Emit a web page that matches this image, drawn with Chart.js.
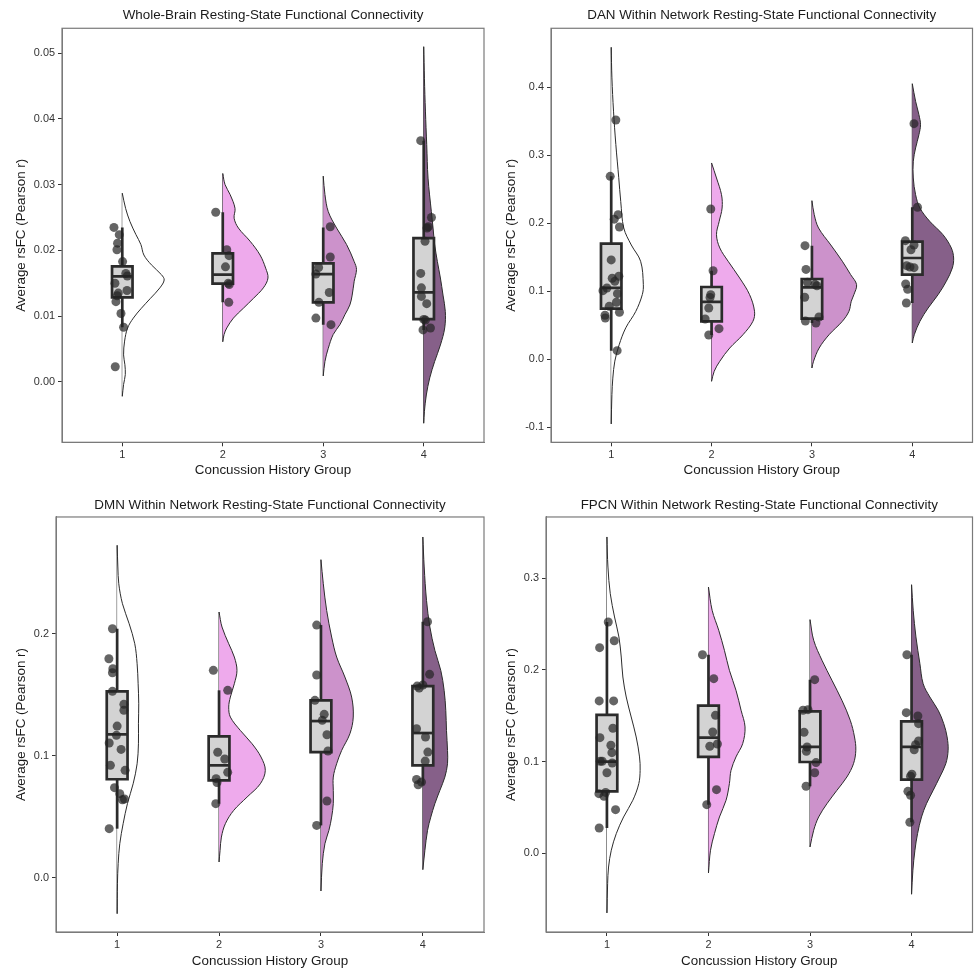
<!DOCTYPE html>
<html>
<head>
<meta charset="utf-8">
<script src="https://cdn.jsdelivr.net/npm/chart.js@4.4.1/dist/chart.umd.min.js"></script>
<style>
  body { margin: 0; background: #fff; }
  #wrap { position: relative; width: 977px; height: 970px; }
  canvas { position: absolute; }
</style>
</head>
<body>
<div id="wrap">
  <canvas id="whole" width="490" height="485" style="left:0;top:0"></canvas>
  <canvas id="dan" width="487" height="485" style="left:490px;top:0"></canvas>
  <canvas id="dmn" width="490" height="485" style="left:0;top:485px"></canvas>
  <canvas id="fpcn" width="487" height="485" style="left:490px;top:485px"></canvas>
</div>
<script>
var groups = ['1', '2', '3', '4'];
var groupFills = ['#FFFFFF', '#EEAAEC', '#CC92CB', '#866089'];

// ---- Whole-brain ----
var wholeTicks = [0, 0.01, 0.02, 0.03, 0.04, 0.05];
var wholeValues = [
  [0.0235, 0.0224, 0.0211, 0.0201, 0.0183, 0.0165, 0.0161, 0.0150, 0.0139, 0.0135, 0.0131, 0.0122, 0.0104, 0.0083, 0.0023],
  [0.0258, 0.0201, 0.0192, 0.0175, 0.0150, 0.0148, 0.0121],
  [0.0236, 0.0190, 0.0174, 0.0164, 0.0136, 0.0121, 0.0097, 0.0087],
  [0.0367, 0.0250, 0.0236, 0.0234, 0.0214, 0.0165, 0.0143, 0.0130, 0.0119, 0.0095, 0.0094, 0.0082, 0.0079]
];
var wholeJitter = [
  [-0.083, -0.03, -0.047, -0.053, 0.003, 0.035, 0.05, -0.073, 0.047, -0.04, -0.05, -0.063, -0.013, 0.013, -0.07],
  [-0.07, 0.04, 0.063, 0.027, 0.055, 0.065, 0.06],
  [0.07, 0.07, -0.046, -0.073, 0.06, -0.043, -0.073, 0.077],
  [-0.03, 0.077, 0.046, 0.033, 0.013, -0.03, -0.023, -0.023, 0.03, 0.0, 0.017, 0.067, -0.007]
];
// [lower whisker, q1, median, q3, upper whisker]
var wholeBox = [
  [0.0083, 0.01285, 0.01605, 0.01757, 0.0235],
  [0.0121, 0.01493, 0.0163, 0.01955, 0.0258],
  [0.0087, 0.01209, 0.0164, 0.01802, 0.0235],
  [0.0079, 0.00955, 0.0136, 0.02188, 0.0367]
];
// [value, half-violin width]
var wholeViolin = [
  [[-0.0022,0],[-0.0004,0.013],[0.0011,0.03],[0.0026,0.026],[0.0041,0.013],[0.0062,0.023],[0.0082,0.053],[0.0097,0.11],[0.0112,0.19],[0.0127,0.28],[0.0143,0.374],[0.0155,0.417],[0.0163,0.39],[0.0178,0.29],[0.0193,0.215],[0.0209,0.185],[0.0224,0.136],[0.0244,0.076],[0.0264,0.033],[0.0287,0]],
  [[0.0061,0],[0.0072,0.013],[0.0082,0.04],[0.0097,0.106],[0.0112,0.205],[0.0127,0.305],[0.0143,0.404],[0.0158,0.45],[0.0173,0.427],[0.0193,0.371],[0.0214,0.272],[0.0234,0.156],[0.0249,0.113],[0.0264,0.122],[0.0285,0.073],[0.0300,0.023],[0.0317,0]],
  [[0.0009,0],[0.0031,0.017],[0.0051,0.05],[0.0072,0.099],[0.0087,0.166],[0.0102,0.215],[0.0117,0.265],[0.0132,0.288],[0.0153,0.308],[0.0171,0.331],[0.0183,0.308],[0.0209,0.232],[0.0234,0.133],[0.0259,0.05],[0.0285,0.017],[0.0313,0]],
  [[-0.0063,0],[-0.0045,0.007],[-0.002,0.026],[0.0006,0.06],[0.0031,0.109],[0.0056,0.166],[0.0082,0.209],[0.0107,0.215],[0.0132,0.192],[0.0158,0.166],[0.0183,0.136],[0.0209,0.109],[0.0234,0.093],[0.0259,0.076],[0.031,0.043],[0.0361,0.03],[0.0412,0.017],[0.0462,0.007],[0.051,0]]
];

// ---- DAN ----
var danTicks = [-0.1, 0, 0.1, 0.2, 0.3, 0.4];
var danValues = [
  [0.352, 0.269, 0.2126, 0.206, 0.1945, 0.146, 0.122, 0.119, 0.1145, 0.1047, 0.1007, 0.0963, 0.0836, 0.0777, 0.0689, 0.0645, 0.0605, 0.0124],
  [0.221, 0.130, 0.0948, 0.0907, 0.0752, 0.059, 0.0448, 0.0355],
  [0.167, 0.132, 0.113, 0.110, 0.108, 0.091, 0.062, 0.056, 0.053],
  [0.3466, 0.2235, 0.1743, 0.168, 0.161, 0.1375, 0.1356, 0.1346, 0.1105, 0.1027, 0.0826]
];
var danJitter = [
  [0.046, -0.01, 0.069, 0.03, 0.082, 0.0, 0.076, 0.01, 0.036, -0.043, -0.082, 0.062, 0.052, -0.02, 0.082, -0.062, -0.059, 0.059],
  [-0.008, 0.015, -0.008, -0.015, -0.028, -0.064, 0.074, -0.028],
  [-0.069, -0.059, -0.045, 0.03, 0.05, -0.072, 0.07, -0.065, 0.04],
  [0.017, 0.052, -0.069, 0.017, -0.013, -0.056, -0.023, 0.017, -0.066, -0.046, -0.059]
];
var danBox = [
  [0.0124, 0.0742, 0.1047, 0.170, 0.269],
  [0.0355, 0.0556, 0.0841, 0.1061, 0.130],
  [0.053, 0.0595, 0.1057, 0.1179, 0.167],
  [0.0826, 0.1243, 0.1488, 0.1728, 0.2235]
];
var danViolin = [
  [[-0.0955,0],[-0.052,0.007],[-0.028,0.016],[-0.003,0.036],[0.021,0.079],[0.046,0.145],[0.07,0.244],[0.095,0.31],[0.11,0.32],[0.144,0.293],[0.168,0.2],[0.193,0.125],[0.232,0.095],[0.267,0.075],[0.316,0.046],[0.365,0.023],[0.414,0.007],[0.459,0]],
  [[-0.0327,0],[-0.018,0.026],[-0.0032,0.082],[0.0163,0.181],[0.0359,0.313],[0.0556,0.412],[0.0704,0.428],[0.0948,0.379],[0.1194,0.28],[0.144,0.165],[0.1636,0.082],[0.1831,0.049],[0.2028,0.076],[0.2224,0.105],[0.242,0.099],[0.2666,0.049],[0.2887,0]],
  [[-0.0131,0],[-0.0032,0.016],[0.0163,0.072],[0.0359,0.171],[0.0556,0.303],[0.0704,0.369],[0.0851,0.392],[0.0948,0.418],[0.1096,0.445],[0.1243,0.386],[0.144,0.303],[0.168,0.188],[0.193,0.066],[0.2126,0.023],[0.2332,0]],
  [[0.0237,0],[0.0359,0.02],[0.0556,0.076],[0.0752,0.158],[0.0948,0.257],[0.1145,0.339],[0.1341,0.399],[0.1488,0.412],[0.1636,0.389],[0.1831,0.306],[0.2028,0.174],[0.2224,0.076],[0.242,0.033],[0.2666,0.01],[0.2912,0.01],[0.3108,0.033],[0.3303,0.066],[0.345,0.082],[0.3598,0.066],[0.3795,0.033],[0.4054,0]]
];

// ---- DMN ----
var dmnTicks = [0, 0.1, 0.2];
var dmnValues = [
  [0.2041, 0.1795, 0.1713, 0.168, 0.1528, 0.1421, 0.1372, 0.1243, 0.1167, 0.1104, 0.1052, 0.0921, 0.088, 0.0738, 0.0689, 0.0639, 0.0645, 0.0402],
  [0.170, 0.1536, 0.1028, 0.0973, 0.0864, 0.0812, 0.078, 0.0607],
  [0.2071, 0.1662, 0.1454, 0.1339, 0.129, 0.1172, 0.1039, 0.0629, 0.0429],
  [0.2098, 0.1667, 0.1571, 0.1555, 0.158, 0.1221, 0.1153, 0.103, 0.0956, 0.0806, 0.0762, 0.0784]
];
var dmnJitter = [
  [-0.046, -0.081, -0.042, -0.046, -0.046, 0.066, 0.066, 0.0, -0.007, -0.078, 0.039, -0.066, 0.078, -0.026, 0.026, 0.052, 0.072, -0.078],
  [-0.056, 0.085, -0.013, 0.056, 0.085, -0.029, -0.02, -0.032],
  [-0.042, -0.042, -0.059, 0.032, 0.013, 0.059, 0.069, 0.059, -0.042],
  [0.046, 0.066, -0.056, -0.036, 0.0, -0.062, 0.026, 0.049, 0.023, -0.062, -0.046, -0.013]
];
var dmnBox = [
  [0.0402, 0.0807, 0.1175, 0.1528, 0.2041],
  [0.0607, 0.0798, 0.0921, 0.1159, 0.1536],
  [0.0429, 0.1030, 0.1284, 0.1454, 0.2071],
  [0.0762, 0.0921, 0.1186, 0.1571, 0.2098]
];
var dmnViolin = [
  [[-0.0295,0],[-0.0049,0.003],[0.0115,0.01],[0.0279,0.026],[0.0443,0.059],[0.0607,0.101],[0.077,0.157],[0.0934,0.196],[0.1098,0.209],[0.1262,0.209],[0.1426,0.212],[0.159,0.206],[0.1754,0.196],[0.1918,0.173],[0.2082,0.118],[0.2246,0.052],[0.241,0.016],[0.2547,0.007],[0.2725,0]],
  [[0.0129,0],[0.0224,0.01],[0.0333,0.023],[0.0443,0.062],[0.0552,0.144],[0.0661,0.275],[0.077,0.405],[0.088,0.454],[0.0989,0.412],[0.1098,0.324],[0.1207,0.209],[0.1317,0.111],[0.1399,0.095],[0.1481,0.111],[0.159,0.15],[0.1699,0.176],[0.1809,0.15],[0.1918,0.095],[0.2055,0.029],[0.2178,0]],
  [[-0.0109,0],[0.0115,0.013],[0.0279,0.039],[0.0388,0.078],[0.0497,0.105],[0.0607,0.121],[0.0716,0.121],[0.0825,0.121],[0.0934,0.154],[0.1043,0.203],[0.118,0.284],[0.1317,0.317],[0.1481,0.301],[0.1645,0.235],[0.1809,0.154],[0.1973,0.105],[0.2191,0.056],[0.241,0.023],[0.2607,0]],
  [[0.0066,0],[0.0224,0.02],[0.0388,0.046],[0.0497,0.078],[0.0607,0.118],[0.0716,0.167],[0.0825,0.216],[0.0934,0.242],[0.1043,0.242],[0.1207,0.232],[0.1371,0.225],[0.1535,0.209],[0.1699,0.176],[0.1863,0.118],[0.2055,0.069],[0.2273,0.036],[0.2547,0.013],[0.2793,0]]
];

// ---- FPCN ----
var fpcnTicks = [0, 0.1, 0.2, 0.3];
var fpcnValues = [
  [0.2523, 0.2319, 0.2243, 0.1662, 0.1662, 0.1364, 0.1261, 0.1178, 0.1098, 0.1004, 0.1004, 0.0985, 0.0879, 0.0664, 0.065, 0.0622, 0.0476, 0.0276],
  [0.2166, 0.1905, 0.1505, 0.1323, 0.1192, 0.1167, 0.0694, 0.053],
  [0.1894, 0.1567, 0.156, 0.132, 0.116, 0.1113, 0.0989, 0.0879, 0.0731],
  [0.2166, 0.1534, 0.1498, 0.1414, 0.1225, 0.1185, 0.113, 0.0862, 0.084, 0.0676, 0.0633, 0.0338]
];
var fpcnJitter = [
  [0.013, 0.072, -0.072, -0.076, 0.066, 0.059, -0.069, 0.039, 0.049, -0.066, -0.046, 0.052, 0.0, -0.013, -0.079, -0.029, 0.085, -0.076],
  [-0.059, 0.052, 0.069, 0.042, 0.088, 0.013, 0.079, -0.017],
  [0.046, -0.02, -0.069, -0.059, -0.029, -0.036, 0.059, 0.046, -0.039],
  [-0.046, -0.052, 0.062, 0.069, 0.069, 0.039, 0.026, 0.003, -0.01, -0.036, -0.01, -0.017]
];
var fpcnBox = [
  [0.0276, 0.0676, 0.0999, 0.1509, 0.2523],
  [0.053, 0.1051, 0.1261, 0.1610, 0.2166],
  [0.0731, 0.0996, 0.116, 0.1549, 0.1894],
  [0.0338, 0.0803, 0.116, 0.144, 0.2166]
];
var fpcnViolin = [
  [[-0.0651,0],[-0.0332,0.007],[-0.015,0.016],[0.0033,0.043],[0.0214,0.092],[0.0396,0.164],[0.0578,0.255],[0.076,0.314],[0.0905,0.327],[0.1051,0.321],[0.1269,0.288],[0.1487,0.239],[0.1705,0.19],[0.1923,0.157],[0.2141,0.141],[0.236,0.118],[0.2578,0.075],[0.2832,0.033],[0.3123,0.01],[0.3451,0]],
  [[-0.0215,0],[0.0033,0.02],[0.0214,0.059],[0.0396,0.108],[0.0578,0.173],[0.076,0.206],[0.0905,0.222],[0.1051,0.271],[0.1196,0.337],[0.1378,0.36],[0.156,0.321],[0.1778,0.271],[0.1996,0.206],[0.2214,0.157],[0.2433,0.101],[0.2651,0.036],[0.2905,0]],
  [[0.0069,0],[0.0251,0.036],[0.0396,0.085],[0.0541,0.167],[0.0687,0.265],[0.0832,0.363],[0.0977,0.428],[0.1124,0.451],[0.1269,0.438],[0.1451,0.396],[0.1669,0.314],[0.1887,0.216],[0.2105,0.118],[0.2324,0.036],[0.2549,0]],
  [[-0.0447,0],[-0.0185,0.013],[0.0033,0.033],[0.0214,0.059],[0.0396,0.098],[0.0541,0.147],[0.0687,0.213],[0.0832,0.278],[0.0977,0.337],[0.1124,0.36],[0.1269,0.35],[0.1414,0.317],[0.156,0.262],[0.1705,0.18],[0.185,0.114],[0.2068,0.082],[0.236,0.043],[0.2651,0.016],[0.293,0]]
];

Chart.defaults.font.family = "'Liberation Sans', Arial, sans-serif";

var ink = '#2b2b2b';
var boxHalf = 0.102;

// grey frame round the plotting area
var framePlugin = {
  id: 'frame',
  afterDatasetsDraw: function (chart) {
    var a = chart.chartArea, ctx = chart.ctx;
    ctx.save();
    ctx.strokeStyle = '#7a7a7a';
    ctx.lineWidth = 1.2;
    ctx.strokeRect(a.left, a.top, a.right - a.left, a.bottom - a.top);
    ctx.restore();
  }
};

function seg(points, width, order) {
  return { data: points, showLine: true, borderColor: ink, borderWidth: width, pointRadius: 0, tension: 0, fill: false, order: order };
}

function makePanel(id, opt) {
  var ds = [];
  for (var g = 0; g < 4; g++) {
    var c = g + 1;
    var vio = opt.violin[g];
    ds.push({
      data: vio.map(function (p) { return { x: c + p[1], y: p[0] }; }),
      showLine: true, fill: 'shape', backgroundColor: groupFills[g],
      borderColor: ink, borderWidth: 1, tension: 0.35, pointRadius: 0, order: 5
    });
    ds.push(seg([{ x: c, y: vio[0][0] }, { x: c, y: vio[vio.length - 1][0] }], 1, 5));
    var b = opt.box[g];
    ds.push({
      data: [{ x: c - boxHalf, y: b[1] }, { x: c + boxHalf, y: b[1] }, { x: c + boxHalf, y: b[3] }, { x: c - boxHalf, y: b[3] }, { x: c - boxHalf, y: b[1] }],
      showLine: true, fill: 'shape', backgroundColor: '#D3D3D3', borderColor: ink, borderWidth: 2.7,
      borderCapStyle: 'square', borderJoinStyle: 'miter', tension: 0, pointRadius: 0, order: 3
    });
    ds.push(seg([{ x: c, y: b[3] }, { x: c, y: b[4] }], 2.7, 4));
    ds.push(seg([{ x: c, y: b[0] }, { x: c, y: b[1] }], 2.7, 4));
    ds.push(seg([{ x: c - boxHalf, y: b[2] }, { x: c + boxHalf, y: b[2] }], 2.7, 2));
    var vals = opt.values[g], jit = opt.jitter[g];
    ds.push({
      data: vals.map(function (v, i) { return { x: c + jit[i], y: v }; }),
      pointRadius: 4.5, pointBackgroundColor: 'rgba(36,36,36,0.7)', pointBorderWidth: 0, order: 0
    });
  }

  new Chart(document.getElementById(id), {
    type: 'scatter',
    data: { datasets: ds },
    plugins: [framePlugin],
    options: {
      responsive: false,
      animation: false,
      events: [],
      layout: { padding: { left: 0, right: opt.right, top: 0, bottom: 0 } },
      plugins: {
        legend: { display: false },
        tooltip: { enabled: false },
        title: {
          display: true, text: opt.title, fullSize: false, color: '#1a1a1a',
          font: { size: 13.4, weight: 'normal' }, padding: opt.titlePad
        }
      },
      scales: {
        x: {
          type: 'linear', min: 0.4, max: 4.6,
          afterBuildTicks: function (s) { s.ticks = groups.map(function (g, i) { return { value: i + 1 }; }); },
          afterFit: function (s) { s.height = opt.bottom; },
          ticks: { color: '#333', font: { size: 10.9 }, padding: 2, maxRotation: 0,
            callback: function (v) { return groups[Math.round(v) - 1]; } },
          grid: { drawOnChartArea: false, drawTicks: true, tickLength: 4, color: '#333' },
          border: { display: true, color: '#7a7a7a', width: 1 },
          title: { display: true, text: 'Concussion History Group', color: '#1a1a1a',
            font: { size: 13.4 }, padding: { top: 0, bottom: opt.xTitlePad } }
        },
        y: {
          type: 'linear', min: opt.yMin, max: opt.yMax,
          afterBuildTicks: function (s) { s.ticks = opt.ticks.map(function (v) { return { value: v }; }); },
          afterFit: function (s) { s.width = opt.left; },
          ticks: { color: '#333', font: { size: 10.9 }, padding: 3,
            callback: function (v) { return v.toFixed(opt.decimals); } },
          grid: { drawOnChartArea: false, drawTicks: true, tickLength: 4, color: '#333' },
          border: { display: true, color: '#7a7a7a', width: 1 },
          title: { display: true, text: 'Average rsFC (Pearson r)', color: '#1a1a1a',
            font: { size: 13.4 }, padding: { top: 13.7, bottom: 0 } }
        }
      }
    }
  });
}

makePanel('whole', {
  title: 'Whole-Brain Resting-State Functional Connectivity',
  values: wholeValues, jitter: wholeJitter, box: wholeBox, violin: wholeViolin,
  ticks: wholeTicks, decimals: 2, yMin: -0.0092, yMax: 0.0538,
  left: 62, right: 6, bottom: 42.7, titlePad: { top: 7.6, bottom: 4.6 }, xTitlePad: 6.5
});
makePanel('dan', {
  title: 'DAN Within Network Resting-State Functional Connectivity',
  values: danValues, jitter: danJitter, box: danBox, violin: danViolin,
  ticks: danTicks, decimals: 1, yMin: -0.1225, yMax: 0.487,
  left: 61, right: 3, bottom: 42.7, titlePad: { top: 7.6, bottom: 4.6 }, xTitlePad: 6.5
});
makePanel('dmn', {
  title: 'DMN Within Network Resting-State Functional Connectivity',
  values: dmnValues, jitter: dmnJitter, box: dmnBox, violin: dmnViolin,
  ticks: dmnTicks, decimals: 1, yMin: -0.0445, yMax: 0.2957,
  left: 56, right: 6, bottom: 38, titlePad: { top: 12, bottom: 3.9 }, xTitlePad: 1
});
makePanel('fpcn', {
  title: 'FPCN Within Network Resting-State Functional Connectivity',
  values: fpcnValues, jitter: fpcnJitter, box: fpcnBox, violin: fpcnViolin,
  ticks: fpcnTicks, decimals: 1, yMin: -0.0859, yMax: 0.3669,
  left: 56, right: 3, bottom: 38, titlePad: { top: 12, bottom: 3.9 }, xTitlePad: 1
});
</script>
</body>
</html>
